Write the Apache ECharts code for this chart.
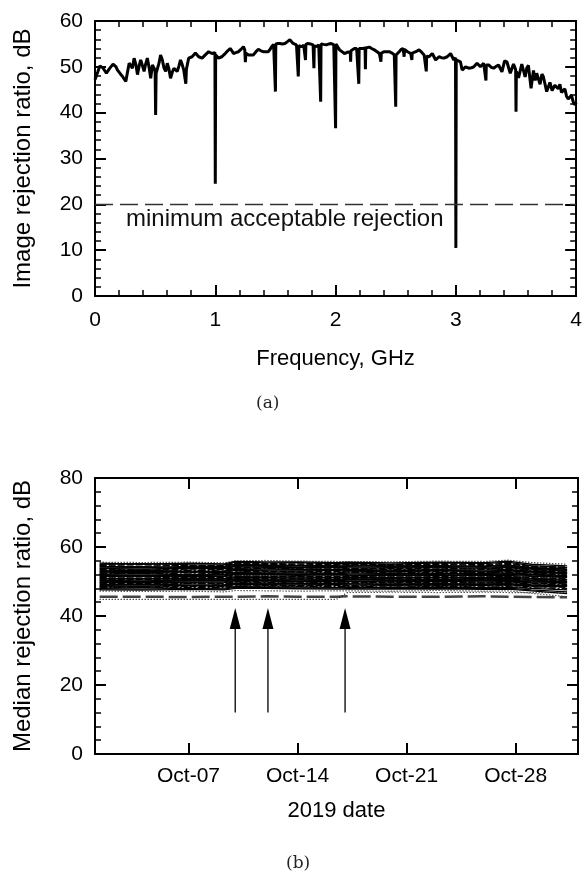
<!DOCTYPE html>
<html><head><meta charset="utf-8">
<script src="https://cdn.jsdelivr.net/npm/echarts@6.0.0/dist/echarts.min.js"></script>
<style>html,body{margin:0;padding:0;background:#fff}#c{width:585px;height:875px}</style>
</head><body><div id="c"></div>
<script>
// ---------- (a) image rejection ratio vs frequency ----------
const freqGHz = [
0.000,0.008,0.022,0.040,0.050,0.065,0.077,0.095,0.105,0.120,0.132,0.150,0.160,0.175,0.187,0.210,0.229,0.256,0.270,0.284,
0.300,0.311,0.325,0.340,0.353,0.368,0.380,0.395,0.408,0.420,0.435,0.450,0.463,0.477,0.495,0.500,0.504,0.508,0.518,0.532,
0.545,0.560,0.573,0.588,0.601,0.615,0.628,0.642,0.656,0.670,0.683,0.698,0.711,0.725,0.738,0.750,0.755,0.760,0.779,0.793,
0.807,0.820,0.835,0.848,0.862,0.876,0.890,0.903,0.917,0.930,0.945,0.958,0.972,0.985,0.997,1.000,1.003,1.027,1.040,1.055,
1.075,1.096,1.110,1.124,1.138,1.151,1.170,1.193,1.213,1.234,1.245,1.250,1.255,1.275,1.295,1.317,1.338,1.358,1.380,1.399,
1.420,1.441,1.455,1.468,1.485,1.497,1.500,1.503,1.520,1.537,1.558,1.579,1.600,1.620,1.635,1.647,1.662,1.675,1.685,1.690,
1.695,1.716,1.735,1.747,1.750,1.753,1.771,1.790,1.813,1.817,1.820,1.823,1.840,1.860,1.873,1.876,1.879,1.900,1.923,1.945,
1.964,1.985,1.997,2.000,2.003,2.033,2.074,2.100,2.122,2.125,2.128,2.157,2.175,2.190,2.193,2.196,2.226,2.245,2.248,2.251,
2.281,2.300,2.322,2.345,2.364,2.374,2.377,2.380,2.405,2.446,2.470,2.488,2.497,2.500,2.503,2.529,2.545,2.562,2.567,2.570,
2.573,2.598,2.625,2.631,2.634,2.637,2.667,2.694,2.715,2.736,2.751,2.754,2.757,2.777,2.804,2.832,2.860,2.880,2.901,2.928,
2.956,2.983,2.997,3.000,3.003,3.038,3.052,3.080,3.107,3.130,3.149,3.176,3.204,3.231,3.247,3.250,3.253,3.273,3.295,3.314,
3.335,3.355,3.383,3.405,3.424,3.452,3.479,3.497,3.500,3.503,3.521,3.548,3.576,3.590,3.603,3.625,3.645,3.660,3.672,3.700,
3.715,3.727,3.755,3.782,3.800,3.823,3.851,3.865,3.878,3.906,3.920,3.934,3.961,3.975,3.989,4.000];
const rejectionDb = [
47.2,47.5,48.8,50.2,50.0,49.8,49.7,48.6,48.9,49.6,49.3,50.6,50.8,50.0,49.3,48.5,47.9,46.8,48.8,50.8,
50.2,49.7,51.9,50.5,48.3,50.3,51.5,50.2,49.0,50.5,51.9,49.8,47.5,50.4,49.5,48.8,39.5,48.6,48.2,50.8,
52.6,51.5,49.8,49.0,50.8,49.5,47.5,48.8,49.7,49.5,49.0,50.2,51.5,50.5,49.3,49.0,46.3,49.5,51.9,52.0,
52.2,52.6,53.0,52.6,52.2,52.0,51.9,52.2,52.6,53.0,53.3,53.1,52.9,53.0,53.1,24.5,52.6,51.9,52.2,52.2,
52.7,53.3,53.6,54.0,53.5,52.9,53.1,53.3,53.8,54.4,53.7,51.0,53.0,52.6,52.6,52.6,53.3,53.8,53.5,53.3,
53.3,53.3,53.8,54.4,54.9,55.0,44.6,55.0,55.1,55.1,55.0,55.1,55.5,55.9,55.5,55.1,54.9,54.8,54.7,47.9,
54.6,54.4,54.7,54.9,51.5,54.9,55.1,55.0,54.8,54.7,49.7,54.6,54.4,54.8,55.0,42.4,55.0,54.9,54.8,55.0,
55.1,54.8,55.0,36.6,55.0,53.7,52.9,53.2,53.3,51.1,53.5,54.0,54.0,54.0,46.3,54.0,54.0,54.1,49.5,54.1,
54.3,54.0,53.7,53.3,52.9,52.9,51.1,53.0,53.3,53.3,53.0,52.6,52.5,41.3,52.6,53.3,53.8,54.0,54.0,52.2,
53.8,53.3,52.9,52.9,51.5,53.0,53.3,53.7,53.2,52.6,52.3,49.0,52.3,52.2,52.9,51.5,52.2,52.0,51.9,52.2,
52.9,51.5,52.0,10.5,51.5,51.1,49.3,50.0,49.7,49.8,50.0,50.8,50.0,50.8,50.5,47.0,50.4,50.4,49.9,49.7,
50.1,50.4,48.9,51.3,51.1,48.6,50.6,49.4,40.2,49.0,47.6,50.6,47.8,49.8,50.3,45.3,49.2,47.0,48.6,46.2,
48.4,47.9,44.6,46.6,44.8,46.0,45.2,46.2,44.4,45.2,43.6,43.0,43.8,42.4,41.7,42.2];
const minAcceptableDb = 20;
const minAcceptableLabel = 'minimum acceptable rejection';

// ---------- (b) median rejection ratio vs date (day of October 2019) ----------
const sampleDay = [1.3, 4, 7, 9.3, 10, 12, 14, 16.5, 17.2, 20, 23, 26, 27.5, 29, 31.3];
const m01 = [55.6,55.5,55.6,55.4,56.0,56.1,55.9,55.8,55.8,55.7,55.9,55.8,56.2,55.5,55.0];
const m02 = [55.0,55.2,54.9,54.8,55.6,55.4,55.5,55.2,55.3,55.0,55.4,55.2,55.6,54.6,54.0];
const m03 = [54.6,54.4,54.7,54.5,55.2,55.0,54.8,55.0,54.9,54.7,55.0,54.6,55.0,54.4,53.8];
const m04 = [54.2,54.3,54.0,54.1,54.7,54.6,54.5,54.4,54.6,54.3,54.4,54.5,54.6,53.9,53.5];
const m05 = [53.8,53.6,53.9,53.7,54.3,54.1,54.0,54.2,54.0,53.9,54.1,53.8,54.2,53.6,53.0];
const m06 = [53.3,53.4,53.2,53.3,53.9,53.8,53.7,53.6,53.7,53.5,53.6,53.7,53.8,53.2,52.7];
const m07 = [52.9,53.0,52.8,52.9,53.5,53.3,53.3,53.4,53.2,53.1,53.3,53.0,53.3,52.9,52.4];
const m08 = [52.5,52.4,52.6,52.4,53.0,52.9,52.8,52.9,52.8,52.7,52.9,52.6,52.9,52.5,52.1];
const m09 = [52.1,52.2,52.0,52.1,52.6,52.5,52.5,52.4,52.5,52.3,52.4,52.3,52.5,52.1,51.7];
const m10 = [51.7,51.6,51.8,51.6,52.2,52.1,52.0,52.1,52.0,51.9,52.0,51.8,52.1,51.7,51.3];
const m11 = [51.3,51.4,51.2,51.3,51.8,51.7,51.6,51.7,51.6,51.5,51.7,51.5,51.6,51.3,51.0];
const m12 = [50.9,50.9,51.0,50.8,51.4,51.3,51.3,51.2,51.3,51.1,51.2,51.1,51.3,50.9,50.6];
const m13 = [50.5,50.6,50.4,50.5,51.0,50.9,50.8,50.9,50.8,50.7,50.9,50.6,50.8,50.5,50.2];
const m14 = [50.1,50.0,50.2,50.1,50.6,50.5,50.5,50.4,50.5,50.3,50.4,50.3,50.4,50.1,49.9];
const m15 = [49.7,49.8,49.6,49.7,50.2,50.1,50.0,50.1,50.0,49.9,50.1,49.8,50.0,49.7,49.5];
const m16 = [49.3,49.2,49.4,49.2,49.8,49.7,49.6,49.7,49.6,49.5,49.6,49.5,49.6,49.3,49.1];
const m17 = [48.9,49.0,48.8,48.9,49.4,49.3,49.3,49.2,49.3,49.1,49.2,49.1,49.2,48.9,48.7];
const m18 = [48.5,48.4,48.6,48.5,49.0,48.9,48.8,48.9,48.8,48.7,48.8,48.7,48.8,48.5,48.3];
const m19 = [48.1,48.2,48.0,48.1,48.5,48.4,48.4,48.3,48.4,48.2,48.4,48.2,48.3,48.0,47.6];
const m20 = [47.6,47.5,47.7,47.6,48.0,48.0,47.9,47.8,47.9,47.8,47.9,47.7,47.8,47.3,46.5];
const m21 = [47.2,47.1,47.2,47.0,47.4,47.3,47.2,47.3,47.3,47.2,47.4,47.2,47.3,46.6,45.6];
const m22 = [45.6,45.6,45.5,45.6,45.6,45.7,45.6,45.6,45.7,45.6,45.6,45.7,45.6,45.5,45.4];
const m23 = [44.8,44.8,44.8,44.8,44.8,44.8,44.8,44.8,46.8,46.9,46.8,46.9,46.8,46.8,46.7];
const m24 = [55.3,55.0,55.3,55.1,55.8,55.7,55.7,55.5,55.6,55.4,55.6,55.5,55.9,55.0,54.5];
const m25 = [54.8,54.9,54.6,54.6,55.4,55.2,55.1,55.3,55.1,54.9,55.2,54.9,55.3,54.4,54.2];
const m26 = [54.4,54.0,54.4,54.3,55.0,54.8,54.7,54.7,54.8,54.5,54.7,54.3,54.8,54.1,53.6];
const m27 = [53.9,54.0,53.7,53.9,54.5,54.4,54.2,54.3,54.3,54.1,54.3,54.1,54.4,53.8,53.2];
const m28 = [53.5,53.3,53.6,53.5,54.1,53.9,53.9,53.9,53.8,53.7,53.9,53.5,54.0,53.4,52.9];
const m29 = [53.1,53.2,53.0,53.1,53.7,53.6,53.5,53.5,53.5,53.3,53.4,53.3,53.5,53.0,52.5];
const m30 = [52.7,52.6,52.8,52.6,53.3,53.1,53.0,53.2,53.0,52.9,53.1,52.8,53.1,52.7,52.3];
const m31 = [52.3,52.4,52.2,52.3,52.8,52.7,52.7,52.6,52.7,52.5,52.6,52.5,52.7,52.3,51.9];
const m32 = [51.9,51.8,52.0,51.9,52.4,52.3,52.2,52.3,52.2,52.1,52.2,52.0,52.3,51.9,51.5];
const m33 = [51.5,51.6,51.4,51.4,52.0,51.9,51.8,51.9,51.8,51.7,51.8,51.7,51.8,51.5,51.2];
const m34 = [51.1,51.0,51.2,51.1,51.6,51.5,51.4,51.4,51.5,51.3,51.4,51.3,51.5,51.1,50.8];
const m35 = [50.7,50.8,50.6,50.7,51.2,51.1,51.0,51.1,51.0,50.9,51.1,50.8,51.0,50.7,50.4];
const m36 = [50.3,50.2,50.4,50.3,50.8,50.7,50.7,50.6,50.7,50.5,50.6,50.5,50.6,50.3,50.0];
const m37 = [49.9,50.0,49.8,49.9,50.4,50.3,50.2,50.3,50.2,50.1,50.2,50.1,50.2,49.9,49.7];
const m38 = [49.5,49.4,49.6,49.4,50.0,49.9,49.8,49.9,49.8,49.7,49.8,49.6,49.8,49.5,49.3];
const m39 = [49.1,49.2,49.0,49.1,49.6,49.5,49.4,49.5,49.4,49.3,49.4,49.3,49.4,49.1,48.9];
const m40 = [48.7,48.6,48.8,48.7,49.2,49.1,49.0,49.1,49.0,48.9,49.0,48.9,49.0,48.7,48.5];
const m41 = [48.3,48.4,48.2,48.3,48.7,48.7,48.6,48.6,48.6,48.4,48.6,48.4,48.5,48.2,47.9];
const m42 = [47.9,47.8,48.0,47.8,48.3,48.2,48.1,48.1,48.2,48.0,48.1,48.0,48.1,47.6,47.0];
const medianLines = [m01,m02,m03,m04,m05,m06,m07,m08,m09,m10,m11,m12,m13,m14,m15,m16,m17,m18,m19,m20,m21,m22,m23,
  m24,m25,m26,m27,m28,m29,m30,m31,m32,m33,m34,m35,m36,m37,m38,m39,m40,m41,m42];
const dateTickDays = [7, 14, 21, 28];
const dateTickLabels = ['Oct-07', 'Oct-14', 'Oct-21', 'Oct-28'];
const arrowDays = [10, 12.1, 17.05];
const arrowFromDb = 12;
const arrowToDb = 42.3;

// ---------- styling (kept apart from data) ----------
const FONT = 'Liberation Sans, Arial, Helvetica, sans-serif';
const lineKinds = ['dotted','solid','dashed','solid','solid','dashdot','solid','dashed','solid','solid','dotted','solid',
  'dashed','solid','solid','dashdot','solid','dashed','solid','solid','dotted','bigdash','dotted',
  'solid','dashed','solid','solid','dashed','solid','solid','dashdot','solid','solid','dashed','solid','solid','solid',
  'dashed','solid','solid','dashdot','solid'];
function kindStyle(k){
  switch(k){
    case 'dotted': return {type:[1,2], width:1.2, color:'#000'};
    case 'dashed': return {type:[7,2], width:1.3, color:'#000'};
    case 'dashdot': return {type:[8,2,2,2], width:1.3, color:'#000'};
    case 'bigdash': return {type:[18,5], width:2.5, color:'#444'};
    default: return {type:'solid', width:1.3, color:'#000'};
  }
}

function axisCommon(extra){
  return Object.assign({
    type:'value',
    axisLine:{show:true, onZero:false, lineStyle:{color:'#000', width:2}},
    axisTick:{show:true, inside:true, length:11, lineStyle:{color:'#000', width:2}},
    minorTick:{show:true, splitNumber:5, length:6, lineStyle:{color:'#000', width:1.5}},
    splitLine:{show:false}, minorSplitLine:{show:false},
    axisLabel:{show:false},
    nameTextStyle:{fontFamily:FONT, fontSize:22, color:'#000'}
  }, extra);
}
const labelStyle = {fontFamily:FONT, fontSize:21, color:'#000'};
const yNameStyle = {fontFamily:FONT, fontSize:24, color:'#000'};

const chart = echarts.init(document.getElementById('c'), null, {renderer:'canvas'});

const bandSeries = medianLines.map((vals, i) => ({
  type:'line', xAxisIndex:2, yAxisIndex:2, showSymbol:false, silent:true,
  data: sampleDay.map((d, j) => [d, vals[j]]),
  lineStyle: kindStyle(lineKinds[i]), z:2
}));

chart.setOption({
  animation:false,
  backgroundColor:'#fff',
  grid:[
    {left:95, top:21, width:483, height:275},
    {left:95, top:478, width:483, height:276}
  ],
  xAxis:[
    axisCommon({gridIndex:0, position:'bottom', min:0, max:4, interval:1,
      axisLabel:Object.assign({show:true, margin:14}, labelStyle),
      name:'Frequency, GHz', nameLocation:'middle', nameGap:52}),
    axisCommon({gridIndex:0, position:'top', min:0, max:4, interval:1}),
    axisCommon({gridIndex:1, position:'bottom', min:1, max:32,
      axisTick:{show:true, inside:true, length:11, customValues:dateTickDays, lineStyle:{color:'#000', width:2}},
      minorTick:{show:false},
      axisLabel:Object.assign({show:true, margin:12, customValues:dateTickDays,
        formatter:v => dateTickLabels[dateTickDays.indexOf(v)] || ''}, labelStyle),
      name:'2019 date', nameLocation:'middle', nameGap:46}),
    axisCommon({gridIndex:1, position:'top', min:1, max:32,
      axisTick:{show:true, inside:true, length:11, customValues:dateTickDays, lineStyle:{color:'#000', width:2}},
      minorTick:{show:false}})
  ],
  yAxis:[
    axisCommon({gridIndex:0, position:'left', min:0, max:60, interval:10,
      axisLabel:Object.assign({show:true, margin:12}, labelStyle),
      name:'Image rejection ratio, dB', nameLocation:'middle', nameGap:60, nameRotate:90, nameTextStyle:yNameStyle}),
    axisCommon({gridIndex:0, position:'right', min:0, max:60, interval:10}),
    axisCommon({gridIndex:1, position:'left', min:0, max:80, interval:20,
      axisLabel:Object.assign({show:true, margin:12}, labelStyle),
      name:'Median rejection ratio, dB', nameLocation:'middle', nameGap:60, nameRotate:90, nameTextStyle:yNameStyle}),
    axisCommon({gridIndex:1, position:'right', min:0, max:80, interval:20})
  ],
  series:[
    {
      type:'line', xAxisIndex:0, yAxisIndex:0, showSymbol:false, silent:true,
      data: freqGHz.map((f, i) => [f, rejectionDb[i]]),
      lineStyle:{color:'#000', width:3, join:'bevel', cap:'butt'},
      z:3,
      markLine:{
        silent:true, symbol:['none','none'], animation:false,
        lineStyle:{color:'#333', width:1.3, type:[18,7]},
        label:{show:false},
        data:[{yAxis:minAcceptableDb}]
      }
    },
    ...bandSeries,
    {
      type:'custom', xAxisIndex:2, yAxisIndex:2, silent:true, z:5,
      data: arrowDays.map(d => [d, arrowToDb]),
      renderItem:function(params, api){
        const d = api.value(0);
        const p0 = api.coord([d, arrowFromDb]);
        const p1 = api.coord([d, arrowToDb]);
        const headLen = 21, headHalf = 5.5;
        return {type:'group', children:[
          {type:'line', shape:{x1:p0[0], y1:p0[1], x2:p1[0], y2:p1[1] + headLen - 1},
            style:{stroke:'#000', lineWidth:1.3}},
          {type:'polygon', shape:{points:[[p1[0], p1[1]], [p1[0]-headHalf, p1[1]+headLen], [p1[0]+headHalf, p1[1]+headLen]]},
            style:{fill:'#000'}}
        ]};
      }
    }
  ],
  graphic:[
    {type:'text', left:126, top:207, style:{text:minAcceptableLabel, font:'24px ' + FONT, fill:'#111'}},
    {type:'text', left:256, top:395, style:{text:'(a)', font:'17px "DejaVu Serif", serif', fill:'#222'}},
    {type:'text', left:286, top:855, style:{text:'(b)', font:'17px "DejaVu Serif", serif', fill:'#222'}}
  ]
});
</script>
</body></html>
